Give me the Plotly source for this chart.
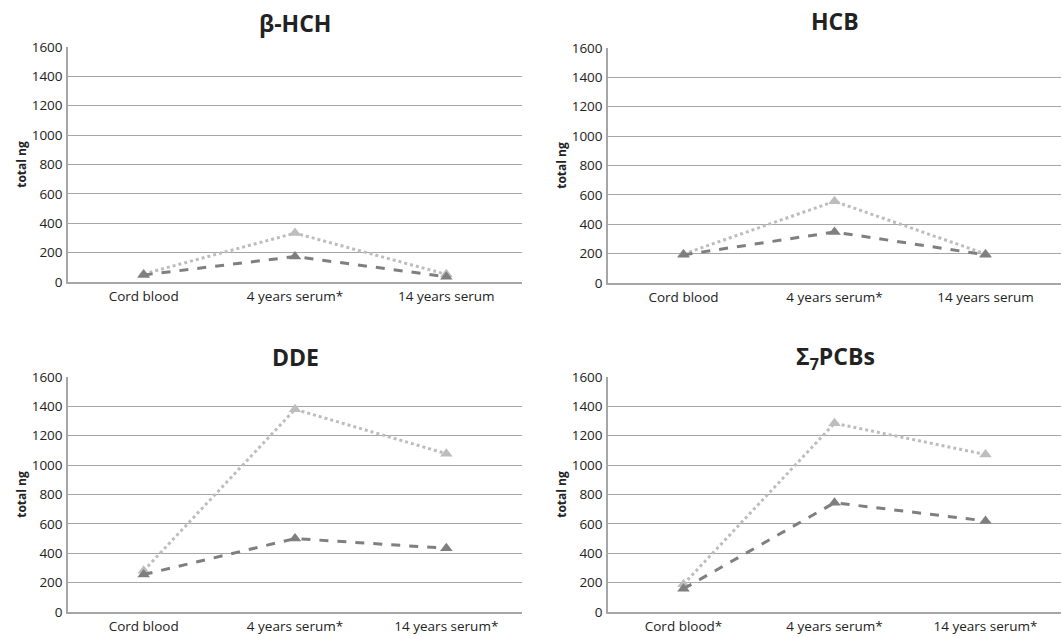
import plotly.graph_objects as go

categories_a = ["Cord blood", "4 years serum*", "14 years serum"]
categories_b = ["Cord blood", "4 years serum*", "14 years serum*"]
categories_c = ["Cord blood*", "4 years serum*", "14 years serum*"]

titles = ["β-HCH", "HCB", "DDE", "Σ<sub>7</sub>PCBs"]

bhch_light = [55, 333, 52]
bhch_dark = [48, 173, 36]
hcb_light = [197, 556, 198]
hcb_dark = [192, 347, 192]
dde_light = [281, 1380, 1078]
dde_dark = [255, 500, 434]
pcb_light = [189, 1285, 1072]
pcb_dark = [158, 744, 620]

y_ticks = [0, 200, 400, 600, 800, 1000, 1200, 1400, 1600]

panels = [
    (categories_a, bhch_light, bhch_dark, titles[0]),
    (categories_a, hcb_light, hcb_dark, titles[1]),
    (categories_b, dde_light, dde_dark, titles[2]),
    (categories_c, pcb_light, pcb_dark, titles[3]),
]

W, H = 1062, 637
# pixel boxes: (left, right, top, bottom)
boxes = [
    (68, 522, 47, 282),
    (608, 1061, 48, 283),
    (68, 522, 377, 612),
    (608, 1061, 377, 612),
]
title_pos = [(295, 23), (835, 21), (295, 357), (835, 357)]

LIGHT = "#BDBDBD"
DARK = "#7F7F7F"
GRID = "#A6A6A6"
FONT = "Open Sans"

fig = go.Figure()
annotations = []
for i, (cats, light, dark, title) in enumerate(panels):
    n = "" if i == 0 else str(i + 1)
    xa, ya = "x" + n, "y" + n
    fig.add_trace(go.Scatter(
        x=[0, 1, 2], y=light, mode="lines+markers", xaxis=xa, yaxis=ya,
        line=dict(color=LIGHT, width=3, dash="dot"),
        marker=dict(symbol="triangle-up", size=11, color=LIGHT),
        showlegend=False))
    fig.add_trace(go.Scatter(
        x=[0, 1, 2], y=dark, mode="lines+markers", xaxis=xa, yaxis=ya,
        line=dict(color=DARK, width=3, dash="dash"),
        marker=dict(symbol="triangle-up", size=11, color=DARK),
        showlegend=False))
    l, r, t, b = boxes[i]
    xdom = [l / W, r / W]
    ydom = [1 - b / H, 1 - t / H]
    fig.update_layout(**{
        "xaxis" + n: dict(
            domain=xdom, range=[-0.5, 2.5], tickvals=[0, 1, 2], ticktext=cats,
            showgrid=False, zeroline=False, showline=True, linecolor=GRID,
            linewidth=1.5, ticks="outside", ticklen=1, tickcolor="rgba(0,0,0,0)",
            tickfont=dict(family=FONT, size=13.5, color="#222222"),
            anchor=ya, fixedrange=True, automargin=False),
        "yaxis" + n: dict(
            domain=ydom, range=[0, 1600], tickvals=y_ticks,
            showgrid=True, gridcolor=GRID, gridwidth=1, zeroline=False,
            showline=True, linecolor=GRID, linewidth=1.5,
            ticks="outside", ticklen=1, tickcolor="rgba(0,0,0,0)",
            tickfont=dict(family=FONT, size=13.5, color="#222222"),
            title=dict(text="<b>total ng</b>", standoff=2,
                       font=dict(family=FONT, size=12, color="#222222")),
            anchor=xa, fixedrange=True, automargin=False),
    })
    tx, ty = title_pos[i]
    annotations.append(dict(
        text="<b>" + title + "</b>", x=tx / W, y=1 - ty / H, xref="paper", yref="paper",
        showarrow=False, xanchor="center", yanchor="middle",
        font=dict(family=FONT, size=23, color="#222222")))

fig.update_layout(
    width=W, height=H, margin=dict(l=0, r=0, t=0, b=0),
    paper_bgcolor="white", plot_bgcolor="white",
    annotations=annotations,
)

fig.write_html(
    "out.html",
    config={"displayModeBar": False},
    post_script="document.body.style.margin='0';document.body.style.overflow='hidden';",
)
